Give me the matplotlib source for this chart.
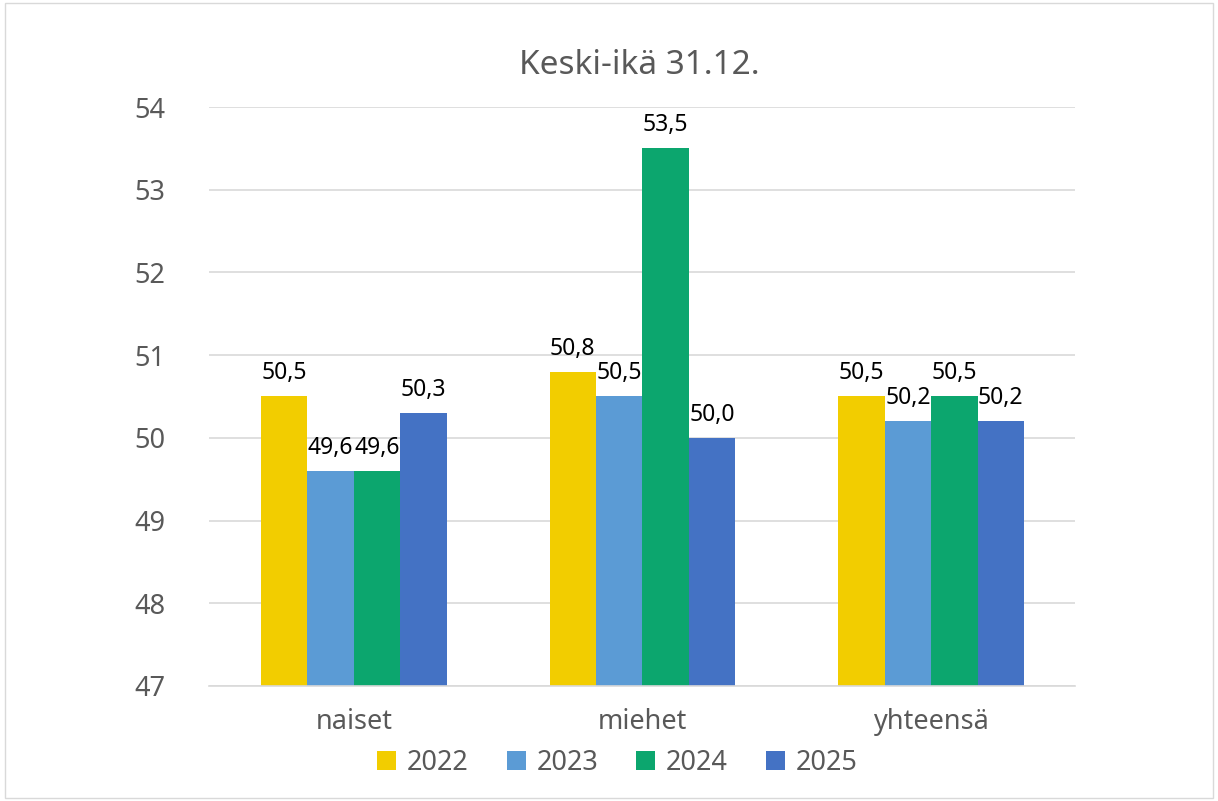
import matplotlib.pyplot as plt
from matplotlib.patches import Rectangle
import numpy as np

categories = ['naiset', 'miehet', 'yhteensä']
years = ['2022', '2023', '2024', '2025']
values = {
    '2022': [50.5, 50.8, 50.5],
    '2023': [49.6, 50.5, 50.2],
    '2024': [49.6, 53.5, 50.5],
    '2025': [50.3, 50.0, 50.2],
}
colors = ['#F2CD00', '#5B9BD5', '#0CA66E', '#4472C4']
y_ticks = [47, 48, 49, 50, 51, 52, 53, 54]

grey = '#595959'
plt.rcParams['font.family'] = ['Noto Sans', 'DejaVu Sans']

fig = plt.figure(figsize=(12.18, 8.01), dpi=100)
ax = fig.add_axes([0.172, 0.1436, 0.711, 0.7228])
fig.patches.append(Rectangle((0.004, 0.004), 0.992, 0.992, transform=fig.transFigure,
                             fill=False, edgecolor='#D9D9D9', linewidth=1))

x = np.arange(len(categories))
w = 0.161
for k, yr in enumerate(years):
    offs = (k - 1.5) * w
    vals = values[yr]
    bars = ax.bar(x + offs, [v - 47 for v in vals], w, bottom=47, color=colors[k], label=yr, zorder=2)
    for b, v in zip(bars, vals):
        ax.annotate(f'{v:.1f}'.replace('.', ','), (b.get_x() + b.get_width() / 2, v),
                    xytext=(0, 8), textcoords='offset points', ha='center', va='bottom',
                    fontsize=16.5, color='black')

ax.set_xlim(-0.5, 2.5)
ax.set_ylim(47, 54)
ax.set_yticks(y_ticks)
ax.set_yticklabels([str(t) for t in y_ticks], fontsize=19.5, color=grey)
ax.set_xticks(x)
ax.set_xticklabels(categories, fontsize=19.5, color=grey)
ax.tick_params(axis='both', length=0)
ax.tick_params(axis='x', pad=16)
ax.tick_params(axis='y', pad=32)
ax.grid(axis='y', color='#D9D9D9', linewidth=1.2, zorder=0)
for s in ['top', 'right', 'left']:
    ax.spines[s].set_visible(False)
ax.spines['bottom'].set_color('#D9D9D9')
ax.spines['bottom'].set_linewidth(1.2)

fig.text(0.525, 0.918, 'Keski-ikä 31.12.', ha='center', va='center', fontsize=24,
         color=grey, fontweight='medium')
fig.legend(loc='center', bbox_to_anchor=(0.507, 0.047), ncol=4, frameon=False, fontsize=19.5,
           handlelength=0.7, handleheight=0.7, handletextpad=0.4, columnspacing=1.4, labelcolor=grey)

fig.savefig('out.png', dpi=100)
